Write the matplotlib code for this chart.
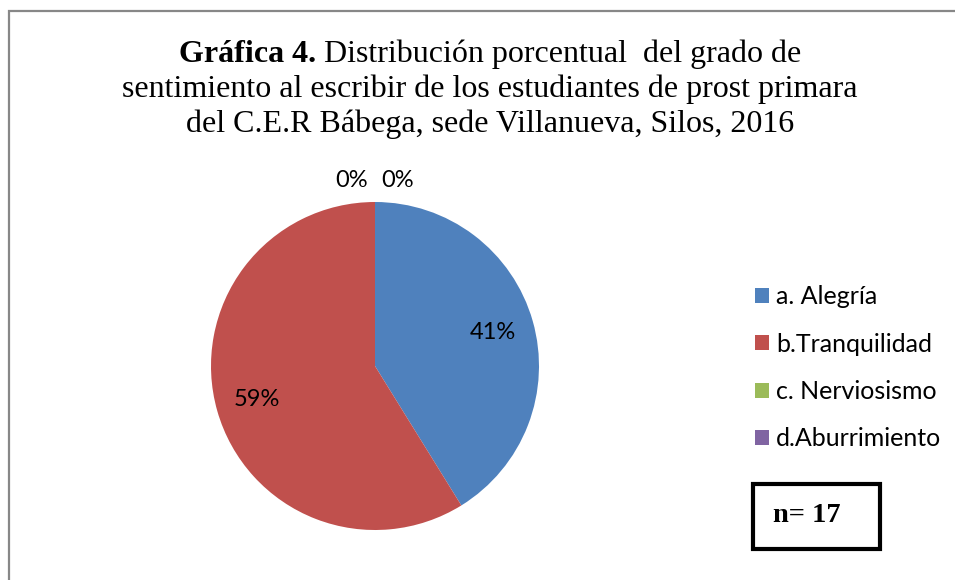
import numpy as np
import matplotlib.pyplot as plt
from matplotlib.patches import Rectangle

# data
categories = ['a. Alegría', 'b.Tranquilidad', 'c. Nerviosismo', 'd.Aburrimiento']
counts = [7, 10, 0, 0]
colors = ['#4F81BD', '#C0504D', '#9BBB59', '#8064A2']
n_total = 17

title_bold = 'Gráfica 4.'
title_rest = ' Distribución porcentual  del grado de'
title_lines = ['sentimiento al escribir de los estudiantes de prost primara',
               'del C.E.R Bábega, sede Villanueva, Silos, 2016']

W, H = 955, 580
fig = plt.figure(figsize=(W / 100, H / 100), dpi=100)
fig.patch.set_facecolor('white')

# outer chart border (only left/top visible in the crop)
fig.patches.append(Rectangle((8.5 / W, -0.1), 1.2, 1 - 11 / H + 0.1,
                             transform=fig.transFigure, fill=False,
                             edgecolor='#878787', linewidth=1.6))

serif = 'Liberation Serif'
sans = ['Lato', 'DejaVu Sans']
tsize = 23
cx = 490 / W

# title, first line has bold lead-in
renderer = fig.canvas.get_renderer()
tb = fig.text(0, 1 - 62 / H, title_bold, fontsize=tsize, family=serif,
              fontweight='bold', va='baseline')
tr = fig.text(0, 1 - 62 / H, title_rest, fontsize=tsize, family=serif,
              va='baseline')
wb = tb.get_window_extent(renderer).width / W
wr = tr.get_window_extent(renderer).width / W
x0 = cx - (wb + wr) / 2
tb.set_x(x0)
tr.set_x(x0 + wb)
for i, line in enumerate(title_lines):
    fig.text(cx, 1 - (97 + 35 * i) / H, line, fontsize=tsize, family=serif,
             ha='center', va='baseline')

# pie
r = 164
ax = fig.add_axes([(375 - r) / W, (H - 366 - r) / H, 2 * r / W, 2 * r / H])
wedges, _ = ax.pie(counts, colors=colors, startangle=90, counterclock=False,
                   radius=1.0)
ax.set_xlim(-1, 1)
ax.set_ylim(-1, 1)
ax.set_aspect('equal')
ax.axis('off')

total = sum(counts)
zero_side = -1
for w, c in zip(wedges, counts):
    ang = np.deg2rad((w.theta1 + w.theta2) / 2)
    pct = '{:.0f}%'.format(100 * c / total)
    if c > 0:
        d = 0.75
        x, y = d * np.cos(ang), d * np.sin(ang)
    else:
        x = 1.13 * np.cos(ang) + zero_side * 0.14
        y = 1.13 * np.sin(ang)
        zero_side = 1
    ax.text(x, y, pct, ha='center', va='center', fontsize=17, family=sans,
            clip_on=False)

# legend
fig.legend(wedges, categories, loc='upper left',
           bbox_to_anchor=(745 / W, 1 - 275 / H), frameon=False,
           borderaxespad=0, prop={'family': sans, 'size': 18},
           handlelength=0.55, handleheight=0.55, handletextpad=0.3,
           labelspacing=0.98)

# n box
fig.patches.append(Rectangle((753 / W, 1 - 549 / H), 127 / W, 65 / H,
                             transform=fig.transFigure, fill=False,
                             edgecolor='black', linewidth=3))
fig.text(773 / W, 1 - 516 / H, 'n= {}'.format(n_total), fontsize=20.5,
         family=serif, fontweight='bold', va='center')

fig.savefig('out.png', dpi=100)
